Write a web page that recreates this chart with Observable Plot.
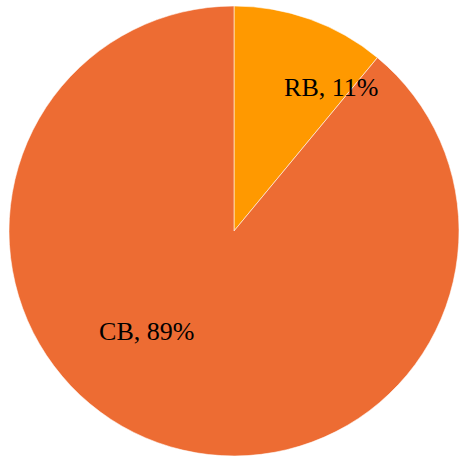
<!DOCTYPE html>
<html>
<head>
<meta charset="utf-8">
<script src="https://cdn.jsdelivr.net/npm/d3@7"></script>
<script src="https://cdn.jsdelivr.net/npm/@observablehq/plot@0.6"></script>
<style>
  html, body { margin: 0; padding: 0; background: #fff; }
</style>
</head>
<body>
<div id="chart"></div>
<script>
const categories = ["RB", "CB"];
const shares = [11, 89];
const colors = ["#FF9900", "#ED6C33"];
// label anchors (unit circle coords) chosen to match the reference
const labelX = [0.43, -0.39];
const labelY = [0.64, -0.445];

const data = categories.map((c, i) => ({cat: c, value: shares[i], color: colors[i]}));
const pie = d3.pie().sort(null).value(d => d.value)(data);

const labels = data.map((d, i) => ({text: `${d.cat}, ${d.value}%`, x: labelX[i], y: labelY[i]}));

function pieMark(index, scales) {
  const cx = scales.x(0), cy = scales.y(0);
  const r = scales.x(1) - scales.x(0);
  const arc = d3.arc().innerRadius(0).outerRadius(r);
  const g = d3.create("svg:g").attr("transform", `translate(${cx},${cy})`);
  g.selectAll("path").data(pie).join("path")
    .attr("d", arc)
    .attr("fill", d => d.data.color)
    .attr("stroke", "#ffffff")
    .attr("stroke-opacity", 0.55)
    .attr("stroke-width", 1);
  return g.node();
}

const chart = Plot.plot({
  width: 459,
  height: 457,
  margin: 0,
  x: {domain: [-1, 1], range: [9, 459], axis: null},
  y: {domain: [-1, 1], range: [456, 6], axis: null},
  marks: [
    pieMark,
    Plot.text(labels, {
      x: "x", y: "y", text: "text",
      fontSize: 26,
      fontFamily: "Liberation Serif, Times New Roman, serif",
      fill: "#000",
      textAnchor: "middle"
    })
  ]
});
document.getElementById("chart").appendChild(chart);
</script>
</body>
</html>
